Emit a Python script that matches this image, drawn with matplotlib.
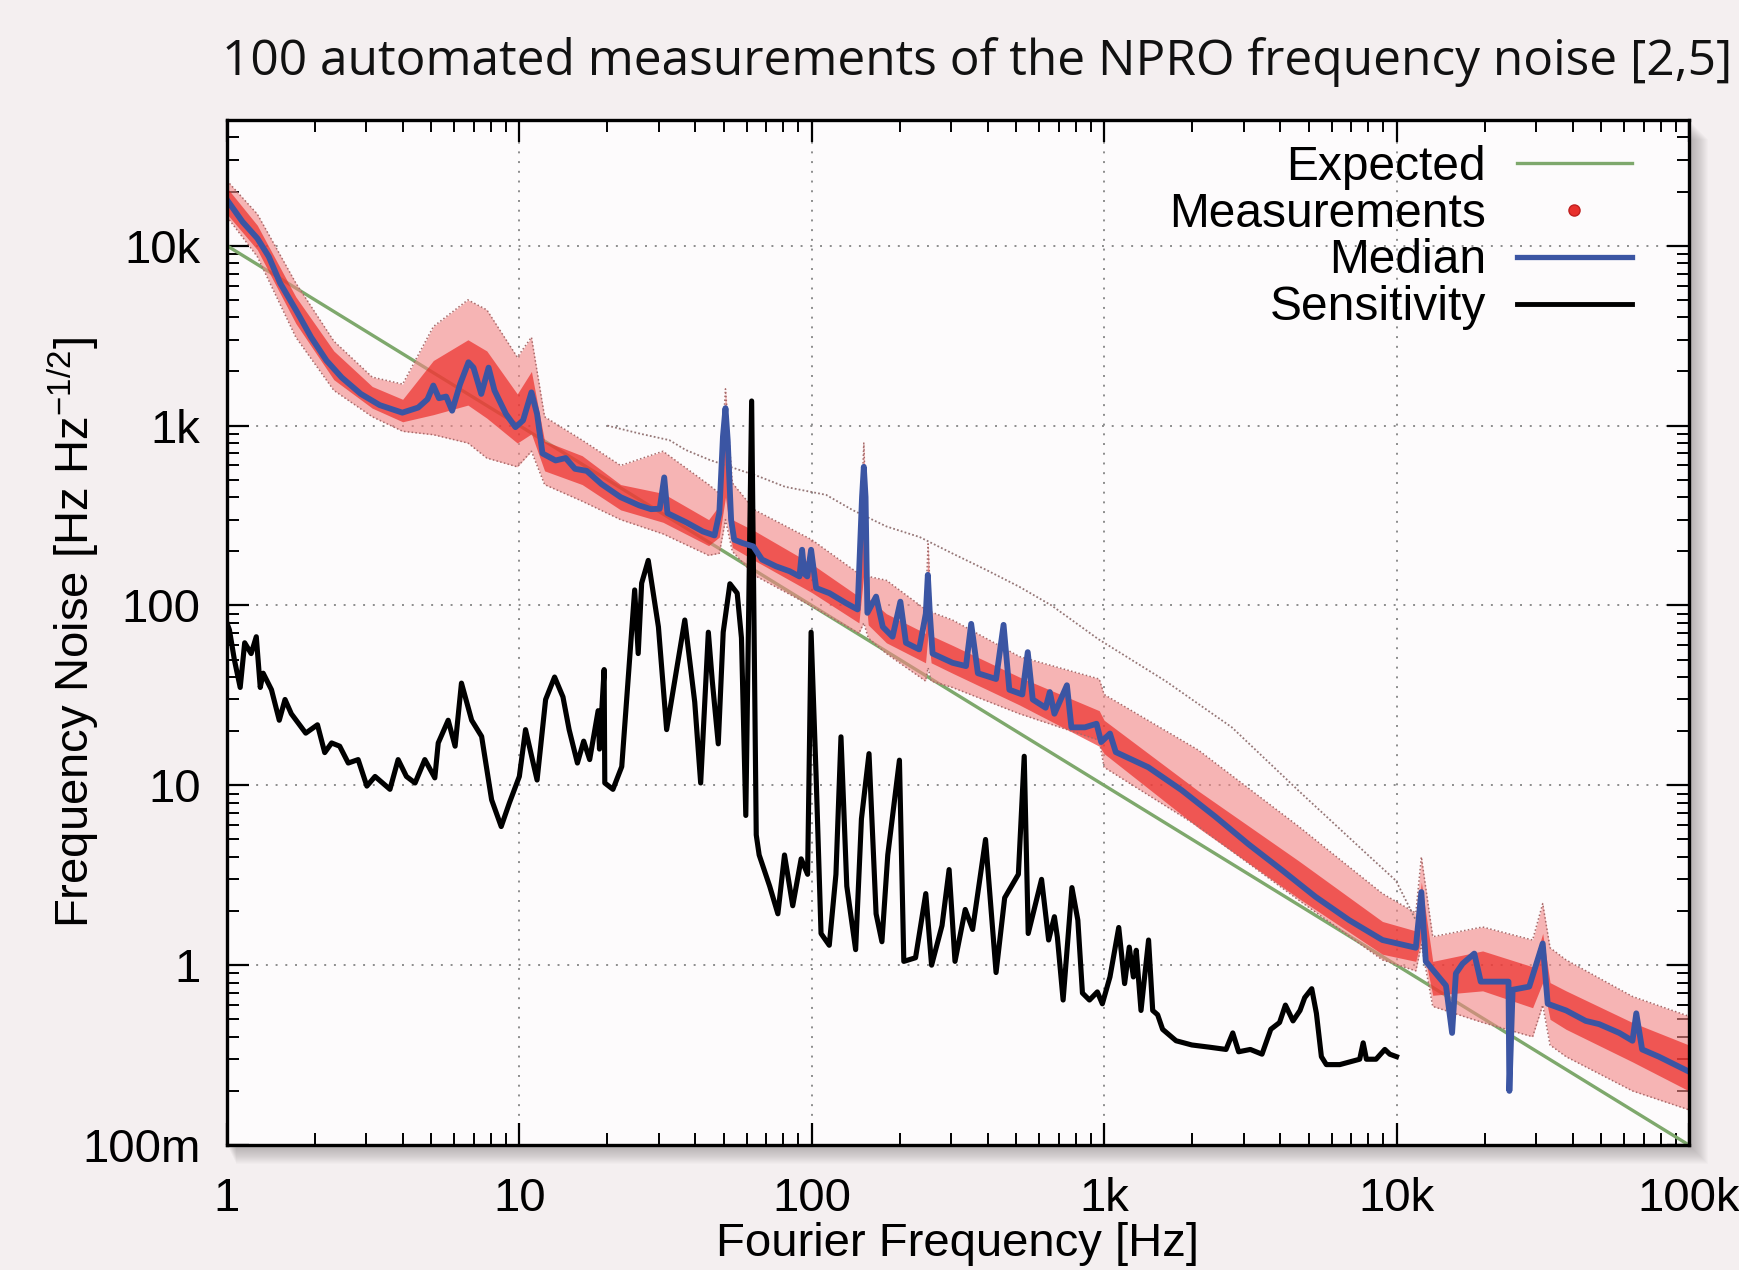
import matplotlib
matplotlib.use("Agg")
import matplotlib.pyplot as plt
from matplotlib.lines import Line2D
from matplotlib.patches import Rectangle
from matplotlib.ticker import LogLocator, NullFormatter

# ---- data ----
median_f = [1.0, 1.13, 1.27, 1.39, 1.52, 1.72, 1.94, 2.19, 2.47, 2.87, 3.33, 3.98, 4.51, 4.85,
            5.08, 5.31, 5.62, 5.89, 6.27, 6.70, 6.97, 7.41, 7.85, 8.22, 9.0, 9.7, 10.3, 11.0,
            11.5, 12.0, 13.3, 14.4, 15.5, 17.0, 19.1, 22.2, 25.7, 28.2, 30.2, 31.3, 32.1, 37.2,
            42.4, 46.5, 48.3, 49.7, 50.7, 51.6, 53.0, 54.3, 58.1, 63.1, 67.6, 75.5, 84, 90.8,
            92.7, 94.4, 96.6, 99.5, 103.5, 115, 131, 143.5, 148.6, 150.7, 152.8, 155, 166, 175,
            189, 201, 210, 233, 245.5, 249.5, 253.5, 259, 303, 337, 351, 370, 427, 453, 474,
            525, 548, 570, 631, 652, 676, 746, 773, 859, 942, 977, 1047, 1096, 1416, 1841,
            2399, 3119, 4064, 5284, 6887, 8954, 11640, 12160, 12590, 14760, 15490, 15960,
            16830, 18450, 19410, 24150, 24320, 24950, 28440, 31620, 32890, 38020, 44360,
            49320, 57810, 64120, 66070, 69180, 78890, 100000]
median_v = [18000, 13600, 11000, 8700, 6200, 4400, 3100, 2300, 1850, 1500, 1300, 1180, 1260, 1400,
            1670, 1420, 1450, 1210, 1700, 2250, 2100, 1500, 2100, 1570, 1160, 980, 1070, 1530,
            1160, 700, 640, 660, 575, 560, 473, 400, 360, 343, 345, 515, 326, 290,
            258, 245, 326, 870, 1250, 830, 299, 232, 222, 213, 180, 165, 155, 145,
            204, 150, 145, 204, 125, 117, 103, 95, 400, 590, 400, 91, 112, 76,
            67, 105, 62, 57, 90, 148, 90, 54, 48, 46, 79, 42, 39, 78, 34,
            32, 55, 30, 27, 33, 25, 36, 21, 21, 22, 17.4, 19.4, 15.3, 12.6, 9.4,
            6.7, 4.7, 3.37, 2.4, 1.78, 1.38, 1.25, 2.55, 1.05, 0.77, 0.42, 0.9,
            1.02, 1.16, 0.81, 0.81, 0.20, 0.73, 0.76, 1.32, 0.61, 0.56, 0.49,
            0.47, 0.42, 0.38, 0.54, 0.34, 0.31, 0.256]

sens_f = [1.0, 1.02, 1.06, 1.11, 1.15, 1.21, 1.26, 1.30, 1.33, 1.42, 1.51, 1.58, 1.66, 1.86, 2.04,
          2.16, 2.28, 2.43, 2.60, 2.81, 3.01, 3.21, 3.61, 3.85, 4.11, 4.40, 4.75, 5.14, 5.28,
          5.71, 6.03, 6.34, 6.87, 7.43, 8.04, 8.67, 9.25, 10.0, 10.5, 11.5, 12.3, 13.2, 14.1,
          14.8, 15.8, 16.6, 17.4, 18.6, 18.8, 19.5, 19.6, 20.9, 22.4, 24.8, 25.5, 26.2, 27.6,
          29.9, 31.9, 36.8, 39.8, 41.7, 44.3, 45.7, 47.9, 49.8, 52.5, 55.6, 57.5, 59.5, 62.3,
          64.6, 66.1, 71.8, 76.6, 80.7, 86.1, 92.0, 96.8, 99.5, 103.5, 107.6, 114.8, 121,
          125.9, 131.8, 141.3, 147.9, 157, 166, 173.8, 182, 199.5, 206.5, 226.5, 245.5, 257,
          279, 295, 309, 335, 355, 393, 427, 457, 509, 533, 550, 611, 646, 676, 692, 724, 776,
          813, 843, 891, 948, 986, 1047, 1122, 1175, 1219, 1259, 1288, 1337, 1419, 1466, 1524,
          1585, 1762, 1995, 2291, 2612, 2754, 2884, 3162, 3467, 3715, 3981, 4169, 4426, 4677,
          4853, 5129, 5321, 5534, 5754, 6397, 6918, 7482, 7691, 7889, 8511, 9120, 9484, 10000]
sens_v = [80, 73, 50, 35, 62, 54, 67, 35, 42, 34, 23, 30, 25, 19.5, 21.7,
          15.2, 17.2, 16.5, 13.3, 13.9, 9.9, 11.2, 9.5, 13.9, 11.2, 10.3, 13.9, 11, 17.2,
          23, 16.5, 37, 23, 18.7, 8.3, 5.9, 8.0, 11.2, 20.4, 10.7, 30, 40, 31,
          20.4, 13.3, 17.6, 13.9, 26, 15.9, 44, 10.3, 9.5, 12.7, 122, 54, 133, 178,
          76, 20.4, 83, 29, 10.3, 71, 38, 17, 71, 132, 117, 66, 6.8, 1370,
          5.3, 4.1, 2.75, 1.93, 4.1, 2.14, 3.9, 3.2, 71, 11.3, 1.5, 1.29, 3.2,
          18.6, 2.75, 1.22, 6.5, 15, 1.93, 1.35, 4.1, 13.8, 1.05, 1.1, 2.5, 1.0,
          1.66, 3.4, 1.05, 2.04, 1.58, 5.0, 0.91, 2.37, 3.2, 14.5, 1.5, 3.0, 1.38, 1.86, 1.43, 0.64, 2.7,
          1.78, 0.7, 0.64, 0.71, 0.61, 0.86, 1.62, 0.79, 1.26, 0.86, 1.21, 0.56, 1.38, 0.56, 0.53,
          0.44, 0.38, 0.36, 0.35, 0.34, 0.42, 0.33, 0.34, 0.32, 0.44, 0.48, 0.6, 0.49, 0.56,
          0.66, 0.74, 0.54, 0.31, 0.28, 0.28, 0.29, 0.30, 0.37, 0.30, 0.30, 0.34, 0.32, 0.31]

# spread of the 100 measurements: full envelope and the dense core
band_f = [1.0, 1.27, 1.72, 2.32, 3.14, 3.99, 5.08, 6.67, 7.74, 9.84, 11.0, 12.2, 16.4, 22.2,
          31.0, 44.4, 48.3, 50.7, 53.5, 63.7, 100, 145, 150.7, 156, 180, 245, 250, 256, 303,
          513, 962, 1000, 2100, 4630, 8950, 11640, 12160, 13300, 19700, 29200, 31620, 33500,
          38000, 64100, 100000]
band_lo = [14500, 8700, 3100, 1570, 1120, 930, 890, 800, 660, 590, 720, 470, 380, 300,
           250, 190, 195, 300, 200, 147, 99, 70, 80, 66, 54, 38, 45, 38, 35,
           25, 17.8, 12.6, 5.9, 2.3, 1.07, 0.93, 1.3, 0.59, 0.48, 0.40, 0.6, 0.36,
           0.31, 0.20, 0.157]
band_hi = [23000, 15000, 6200, 2950, 1860, 1700, 3550, 5000, 4400, 2400, 3100, 1120, 830, 600,
           720, 470, 420, 1600, 480, 340, 232, 150, 800, 145, 138, 95, 220, 92, 83,
           52, 39, 32, 15.7, 5.9, 2.5, 1.95, 4.0, 1.44, 1.63, 1.38, 2.2, 1.25,
           1.07, 0.67, 0.52]
core_lo = [15000, 9500, 3700, 1800, 1250, 1050, 1150, 1300, 1100, 800, 900, 560, 470, 340,
           290, 215, 240, 400, 210, 178, 118, 80, 150, 78, 62, 48, 70, 48, 42,
           28, 16.5, 15, 5.8, 2.35, 1.15, 1.05, 1.4, 0.68, 0.72, 0.58, 0.8, 0.5,
           0.44, 0.29, 0.2]
core_hi = [21000, 13000, 5200, 2600, 1650, 1400, 2300, 3000, 2600, 1500, 2000, 820, 680, 470,
           420, 300, 360, 1350, 300, 260, 170, 112, 650, 110, 90, 70, 170, 68, 60,
           40, 26, 23, 9.3, 3.8, 1.75, 1.55, 2.9, 1.05, 1.2, 0.98, 1.5, 0.8,
           0.72, 0.48, 0.36]

# one measurement well above the rest
outlier_f = [20, 26, 32.6, 37, 44.7, 66, 81, 112, 138, 180, 234, 302, 394, 513, 661, 955,
             1622, 2735, 4634, 7852, 9954, 11640]
outlier_v = [1000, 900, 830, 733, 645, 521, 457, 412, 339, 275, 240, 195, 158, 127, 100, 65,
             38, 21, 9.3, 4.2, 2.95, 1.78]

expected_f = [1, 1e5]
expected_v = [1e4, 0.1]

xtick_vals = [1, 10, 100, 1e3, 1e4, 1e5]
xtick_labels = ['1', '10', '100', '1k', '10k', '100k']
ytick_vals = [0.1, 1, 10, 100, 1e3, 1e4]
ytick_labels = ['100m', '1', '10', '100', '1k', '10k']

labels = ['Expected', 'Measurements', 'Median', 'Sensitivity']

green = '#7ea86c'
red = '#e8302c'
blue = '#3b55a3'

plt.rcParams['font.family'] = ['Liberation Sans', 'DejaVu Sans']
plt.rcParams['mathtext.default'] = 'regular'

fig = plt.figure(figsize=(17.39, 12.70), dpi=100, facecolor='#f4eff0')
pos = [0.1305, 0.0984, 0.8407, 0.8071]

# soft drop shadow behind the plot frame
for i in range(1, 20):
    d = i / 1739
    fig.add_artist(Rectangle((pos[0] + d * 0.5, pos[1] - d * 1.4), pos[2] + d * 0.5, pos[3],
                             transform=fig.transFigure, facecolor='#6a6466',
                             edgecolor='none', alpha=0.028, zorder=-2))

ax = fig.add_axes(pos)
ax.set_facecolor('#fdfbfc')
ax.set_xscale('log')
ax.set_yscale('log')
ax.set_xlim(1, 1e5)
ax.set_ylim(0.1, 5e4)

ax.grid(True, which='major', color='#8c8c8c', ls=(0, (1, 4)), lw=1.4, zorder=0)

ax.plot(expected_f, expected_v, color=green, lw=2.4, zorder=2, solid_capstyle='butt')
ax.fill_between(band_f, band_lo, band_hi, color='#f28684', alpha=0.6, lw=0, zorder=3)
ax.fill_between(band_f, core_lo, core_hi, color='#ec2420', alpha=0.65, lw=0, zorder=3)
ax.plot(band_f, band_hi, color='#a86a6a', lw=1.1, ls=(0, (1, 1.5)), zorder=3)
ax.plot(band_f, band_lo, color='#a86a6a', lw=1.1, ls=(0, (1, 1.5)), zorder=3)
ax.plot(outlier_f, outlier_v, color='#957676', lw=1.3, ls=(0, (1, 1.2)), zorder=3)
ax.plot(sens_f, sens_v, color='black', lw=3.7, zorder=4, solid_joinstyle='round')
ax.plot(median_f, median_v, color=blue, lw=4.2, zorder=5, solid_joinstyle='round')

ax.set_xticks(xtick_vals, xtick_labels)
ax.set_yticks(ytick_vals, ytick_labels)
ax.xaxis.set_minor_locator(LogLocator(base=10, subs=range(2, 10), numticks=20))
ax.yaxis.set_minor_locator(LogLocator(base=10, subs=range(2, 10), numticks=20))
ax.xaxis.set_minor_formatter(NullFormatter())
ax.yaxis.set_minor_formatter(NullFormatter())
ax.tick_params(which='both', direction='in', top=True, right=True, color='black')
ax.tick_params(which='major', length=16, width=1.6, labelsize=34)
ax.tick_params(which='minor', length=8.5, width=1.4)
ax.tick_params(axis='x', which='major', pad=23)
ax.tick_params(axis='y', which='major', pad=19)
for sp in ax.spines.values():
    sp.set_linewidth(2.4)
    sp.set_zorder(6)

ax.set_xlabel('Fourier Frequency [Hz]', fontsize=34)
ax.set_ylabel('Frequency Noise [Hz Hz$^{-1/2}$]', fontsize=34)
ax.xaxis.set_label_coords(0.5, -0.075)
ax.yaxis.set_label_coords(-0.086, 0.5)

handles = [Line2D([], [], color=green, lw=2.4),
           Line2D([], [], ls='none', marker='o', ms=8, mfc=red, mec='#c02020'),
           Line2D([], [], color=blue, lw=3.8),
           Line2D([], [], color='black', lw=3.5)]
ax.legend(handles, labels, loc='upper right', bbox_to_anchor=(0.961, 0.976),
          frameon=False, markerfirst=False, fontsize=34.5, handlelength=2.4,
          handletextpad=0.65, labelspacing=0.04, borderpad=0, borderaxespad=0)

fig.text(0.1277, 0.9406, '100 automated measurements of the NPRO frequency noise [2,5]',
         ha='left', va='baseline', fontsize=35.7, family='Open Sans', color='#111111')

fig.savefig('out.png', dpi=100, facecolor=fig.get_facecolor())
plt.close(fig)
